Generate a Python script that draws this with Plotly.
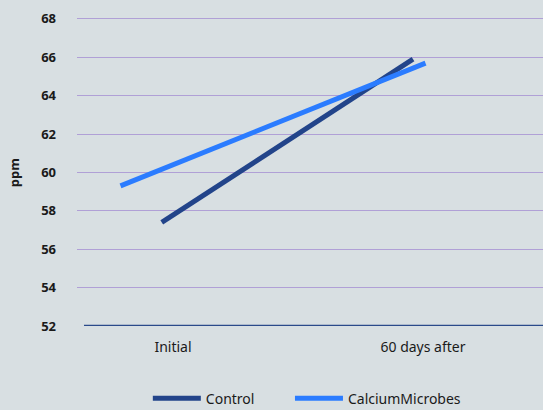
import plotly.graph_objects as go

categories = ["Initial", "60 days after"]
cat_pos = [0, 1]
control_x = [-0.045, 0.96]
control_y = [57.4, 65.9]
calcium_x = [-0.21, 1.01]
calcium_y = [59.3, 65.7]
y_ticks = [52, 54, 56, 58, 60, 62, 64, 66, 68]

BG = "#d8dfe2"

fig = go.Figure()
fig.add_trace(go.Scatter(x=control_x, y=control_y, mode="lines", name="Control",
                         line=dict(color="#22448a", width=5), legend="legend"))
fig.add_trace(go.Scatter(x=calcium_x, y=calcium_y, mode="lines", name="CalciumMicrobes",
                         line=dict(color="#2b7cff", width=5), legend="legend2"))

leg_common = dict(orientation="h", xanchor="left", y=-0.235, yanchor="middle",
                  font=dict(size=14), itemwidth=48, bgcolor="rgba(0,0,0,0)")

fig.update_layout(
    width=543, height=410,
    margin=dict(l=77, r=0, t=17, b=84, autoexpand=False),
    paper_bgcolor=BG,
    plot_bgcolor=BG,
    font=dict(family="Noto Sans", size=14, color="#1a1a1a"),
    showlegend=True,
    legend=dict(x=0.152, **leg_common),
    legend2=dict(x=0.457, **leg_common),
    xaxis=dict(range=[-0.384, 1.48], tickvals=cat_pos, ticktext=categories,
               showgrid=False, zeroline=False, showline=False, ticks="",
               automargin=False, tickfont=dict(size=14), ticklabelstandoff=11),
    yaxis=dict(range=[52, 68.1], tickvals=y_ticks, showgrid=True,
               gridcolor="#b0a0d6", gridwidth=1, zeroline=False, ticks="",
               automargin=False,
               tickfont=dict(size=13, family="Noto Sans", weight="bold"),
               ticklabelstandoff=20),
)
fig.add_annotation(text="<b>ppm</b>", xref="paper", yref="paper", x=-0.135, y=0.495,
                   xanchor="center", yanchor="middle",
                   textangle=-90, showarrow=False, font=dict(size=13))
fig.add_shape(type="line", xref="paper", yref="y", x0=0.015, x1=1, y0=52, y1=52,
              line=dict(color="#2a4a8a", width=2.5))
fig.write_html("out.html", config={"displayModeBar": False},
               post_script="document.body.style.margin='0';document.body.style.background='%s';" % BG)
